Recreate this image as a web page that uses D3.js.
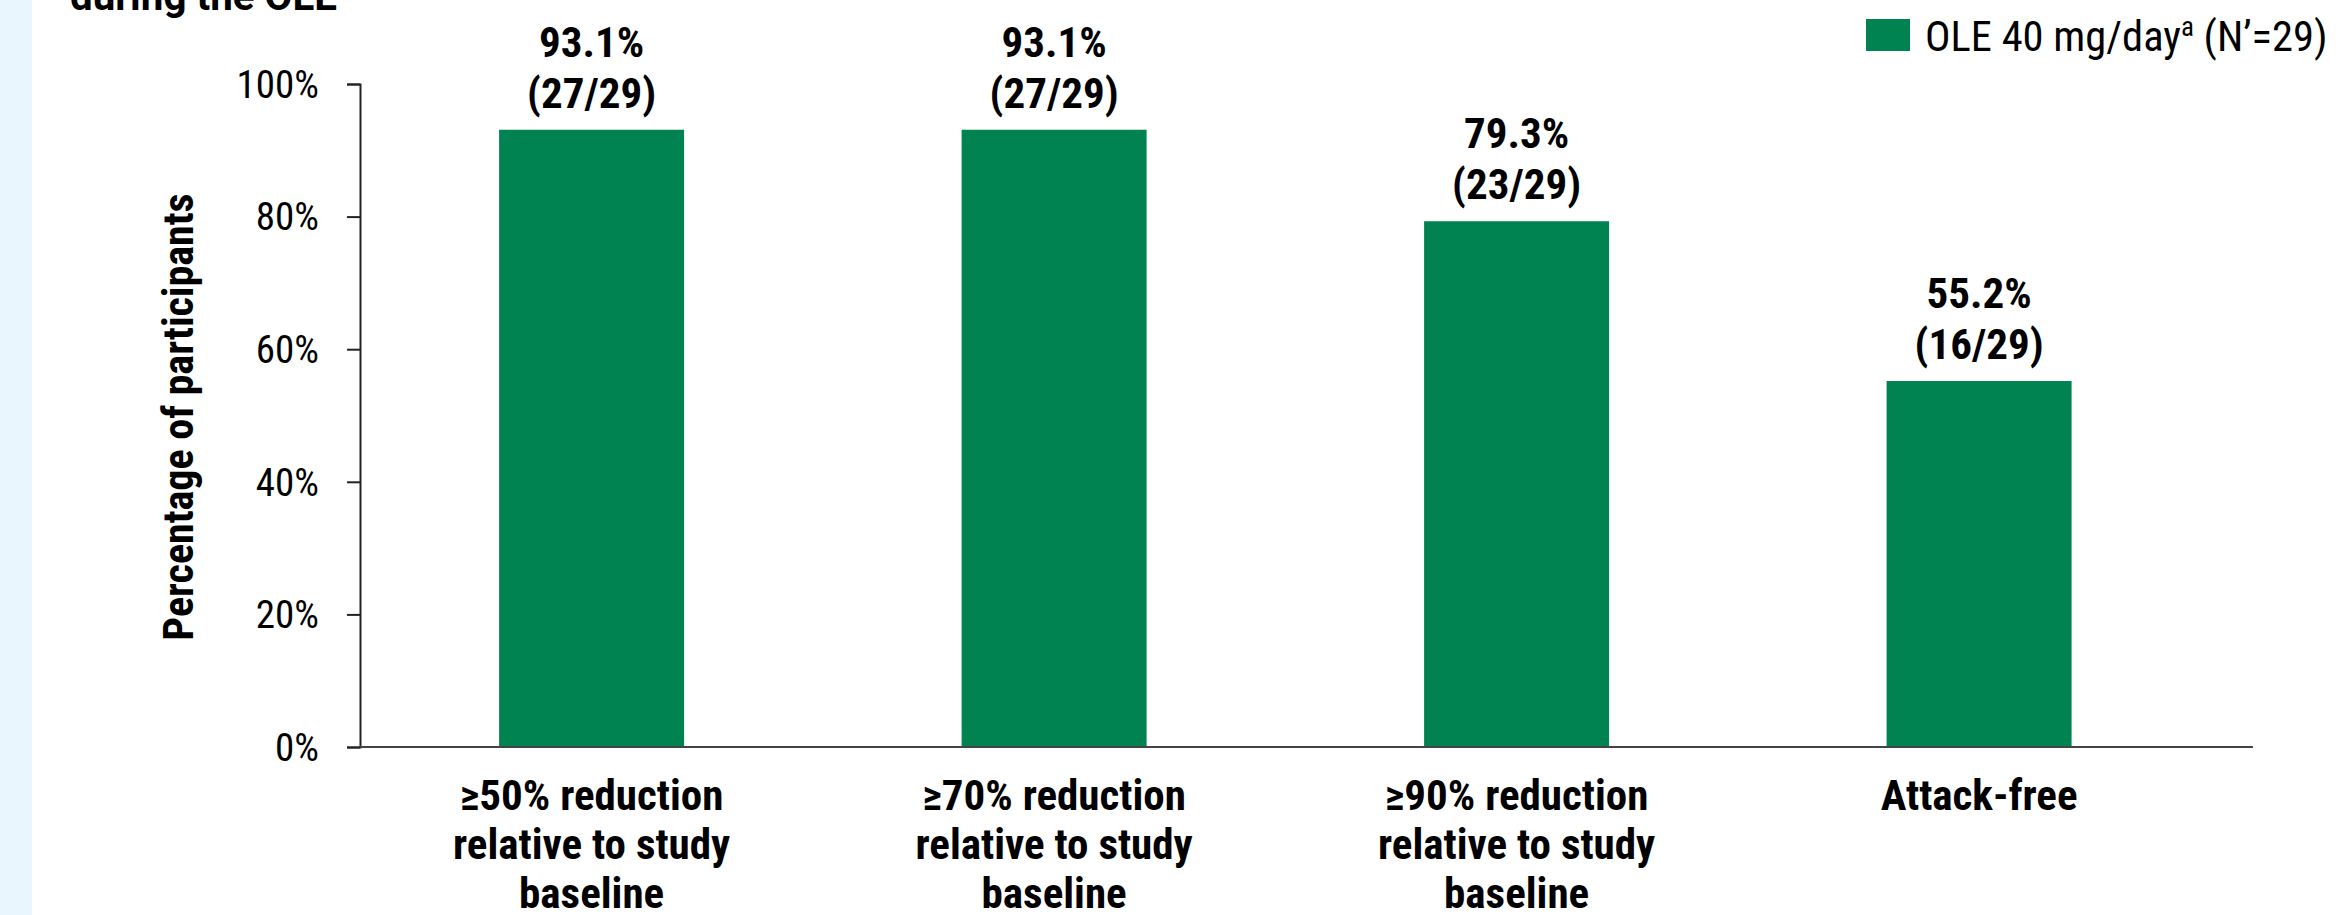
<!DOCTYPE html>
<html lang="en">
<head>
    <meta charset="UTF-8">
    <title>Responder rates during the OLE</title>
    <script src="https://d3js.org/d3.v7.min.js"></script>
    <style>
        body {
            margin: 0;
            padding: 0;
            background-color: #fff;
            overflow: hidden;
        }
        svg text {
            font-family: "Roboto Condensed", "Liberation Sans Narrow", "Arial Narrow", Roboto, sans-serif;
            fill: #000;
        }
    </style>
</head>
<body>
    <svg id="chart" width="2340" height="915"></svg>

    <script>
        // Data
        var categories = ["cat50", "cat70", "cat90", "free"];
        var categoryLines = [
            ["\u226550% reduction", "relative to study", "baseline"],
            ["\u226570% reduction", "relative to study", "baseline"],
            ["\u226590% reduction", "relative to study", "baseline"],
            ["Attack-free"]
        ];
        var percentValues = [93.1, 93.1, 79.3, 55.2];
        var countLabels = ["(27/29)", "(27/29)", "(23/29)", "(16/29)"];
        var yTicks = [0, 20, 40, 60, 80, 100];
        var seriesName = "OLE 40 mg/day";
        var seriesSup = "a";
        var seriesN = " (N\u2019=29)";
        var barColor = "#008350";

        var svg = d3.select("#chart");

        // light blue strip down the left edge
        svg.append("rect")
            .attr("x", 0).attr("y", 0)
            .attr("width", 32).attr("height", 915)
            .attr("fill", "#eaf6fd");

        // the title is cut off at the top edge of the picture
        svg.append("text")
            .attr("x", 70)
            .attr("y", 10)
            .style("font-family", "Roboto, sans-serif")
            .style("font-weight", 700)
            .style("font-size", "40px")
            .attr("textLength", 267)
            .attr("lengthAdjust", "spacingAndGlyphs")
            .text("during the OLE");

        // scales
        var x = d3.scaleBand()
            .domain(categories)
            .range([360, 2253])
            .paddingInner(0.6)
            .paddingOuter(0.3465)
            .align(0.434);

        var y = d3.scaleLinear()
            .domain([0, 100])
            .range([747, 84]);

        // y axis
        var yAxis = svg.append("g")
            .attr("transform", "translate(360,0)")
            .call(d3.axisLeft(y)
                .tickValues(yTicks)
                .tickSize(13)
                .tickPadding(28)
                .tickFormat(function(d) { return d + "%"; }));

        yAxis.select(".domain").attr("stroke", "#222").attr("stroke-width", 2);
        yAxis.selectAll(".tick line").attr("stroke", "#222").attr("stroke-width", 2);
        yAxis.selectAll(".tick text")
            .attr("fill", "#000")
            .style("font-size", "39px")
            .attr("dy", "0.34em");

        // y axis title
        svg.append("text")
            .attr("transform", "translate(193,417) rotate(-90)")
            .attr("text-anchor", "middle")
            .style("font-weight", 700)
            .style("font-size", "42px")
            .text("Percentage of participants");

        // bars
        svg.append("g")
            .selectAll("rect")
            .data(categories)
            .enter()
            .append("rect")
                .attr("x", function(d) { return x(d); })
                .attr("y", function(d, i) { return y(percentValues[i]); })
                .attr("width", x.bandwidth())
                .attr("height", function(d, i) { return y(0) - y(percentValues[i]); })
                .attr("fill", barColor);

        // x axis line along the bottom
        svg.append("line")
            .attr("x1", 360).attr("x2", 2253)
            .attr("y1", y(0)).attr("y2", y(0))
            .attr("stroke", "#444")
            .attr("stroke-width", 2);

        // value labels above bars
        var labels = svg.append("g")
            .selectAll("text")
            .data(categories)
            .enter()
            .append("text")
                .attr("text-anchor", "middle")
                .style("font-weight", 700)
                .style("font-size", "43px")
                .attr("x", function(d) { return x(d) + x.bandwidth() / 2; })
                .attr("y", function(d, i) { return y(percentValues[i]) - 73; });

        labels.append("tspan")
            .text(function(d, i) { return percentValues[i].toFixed(1) + "%"; });
        labels.append("tspan")
            .attr("x", function(d) { return x(d) + x.bandwidth() / 2; })
            .attr("dy", 51)
            .text(function(d, i) { return countLabels[i]; });

        // category labels under the axis
        var catText = svg.append("g")
            .selectAll("text")
            .data(categories)
            .enter()
            .append("text")
                .attr("text-anchor", "middle")
                .style("font-weight", 700)
                .style("font-size", "43px")
                .attr("y", 810);

        catText.each(function(d, i) {
            var t = d3.select(this);
            var cx = x(d) + x.bandwidth() / 2;
            categoryLines[i].forEach(function(line, j) {
                t.append("tspan")
                    .attr("x", cx)
                    .attr("dy", j === 0 ? 0 : 49)
                    .text(line);
            });
        });

        // legend
        var legend = svg.append("g");
        legend.append("rect")
            .attr("x", 1866).attr("y", 19)
            .attr("width", 44).attr("height", 32)
            .attr("fill", barColor);
        var legendText = legend.append("text")
            .attr("x", 1925)
            .attr("y", 51)
            .style("font-size", "42.5px");
        legendText.append("tspan").text(seriesName);
        legendText.append("tspan")
            .attr("dy", -15)
            .style("font-size", "27px")
            .text(seriesSup);
        legendText.append("tspan")
            .attr("dy", 15)
            .text(seriesN);
    </script>
</body>
</html>
